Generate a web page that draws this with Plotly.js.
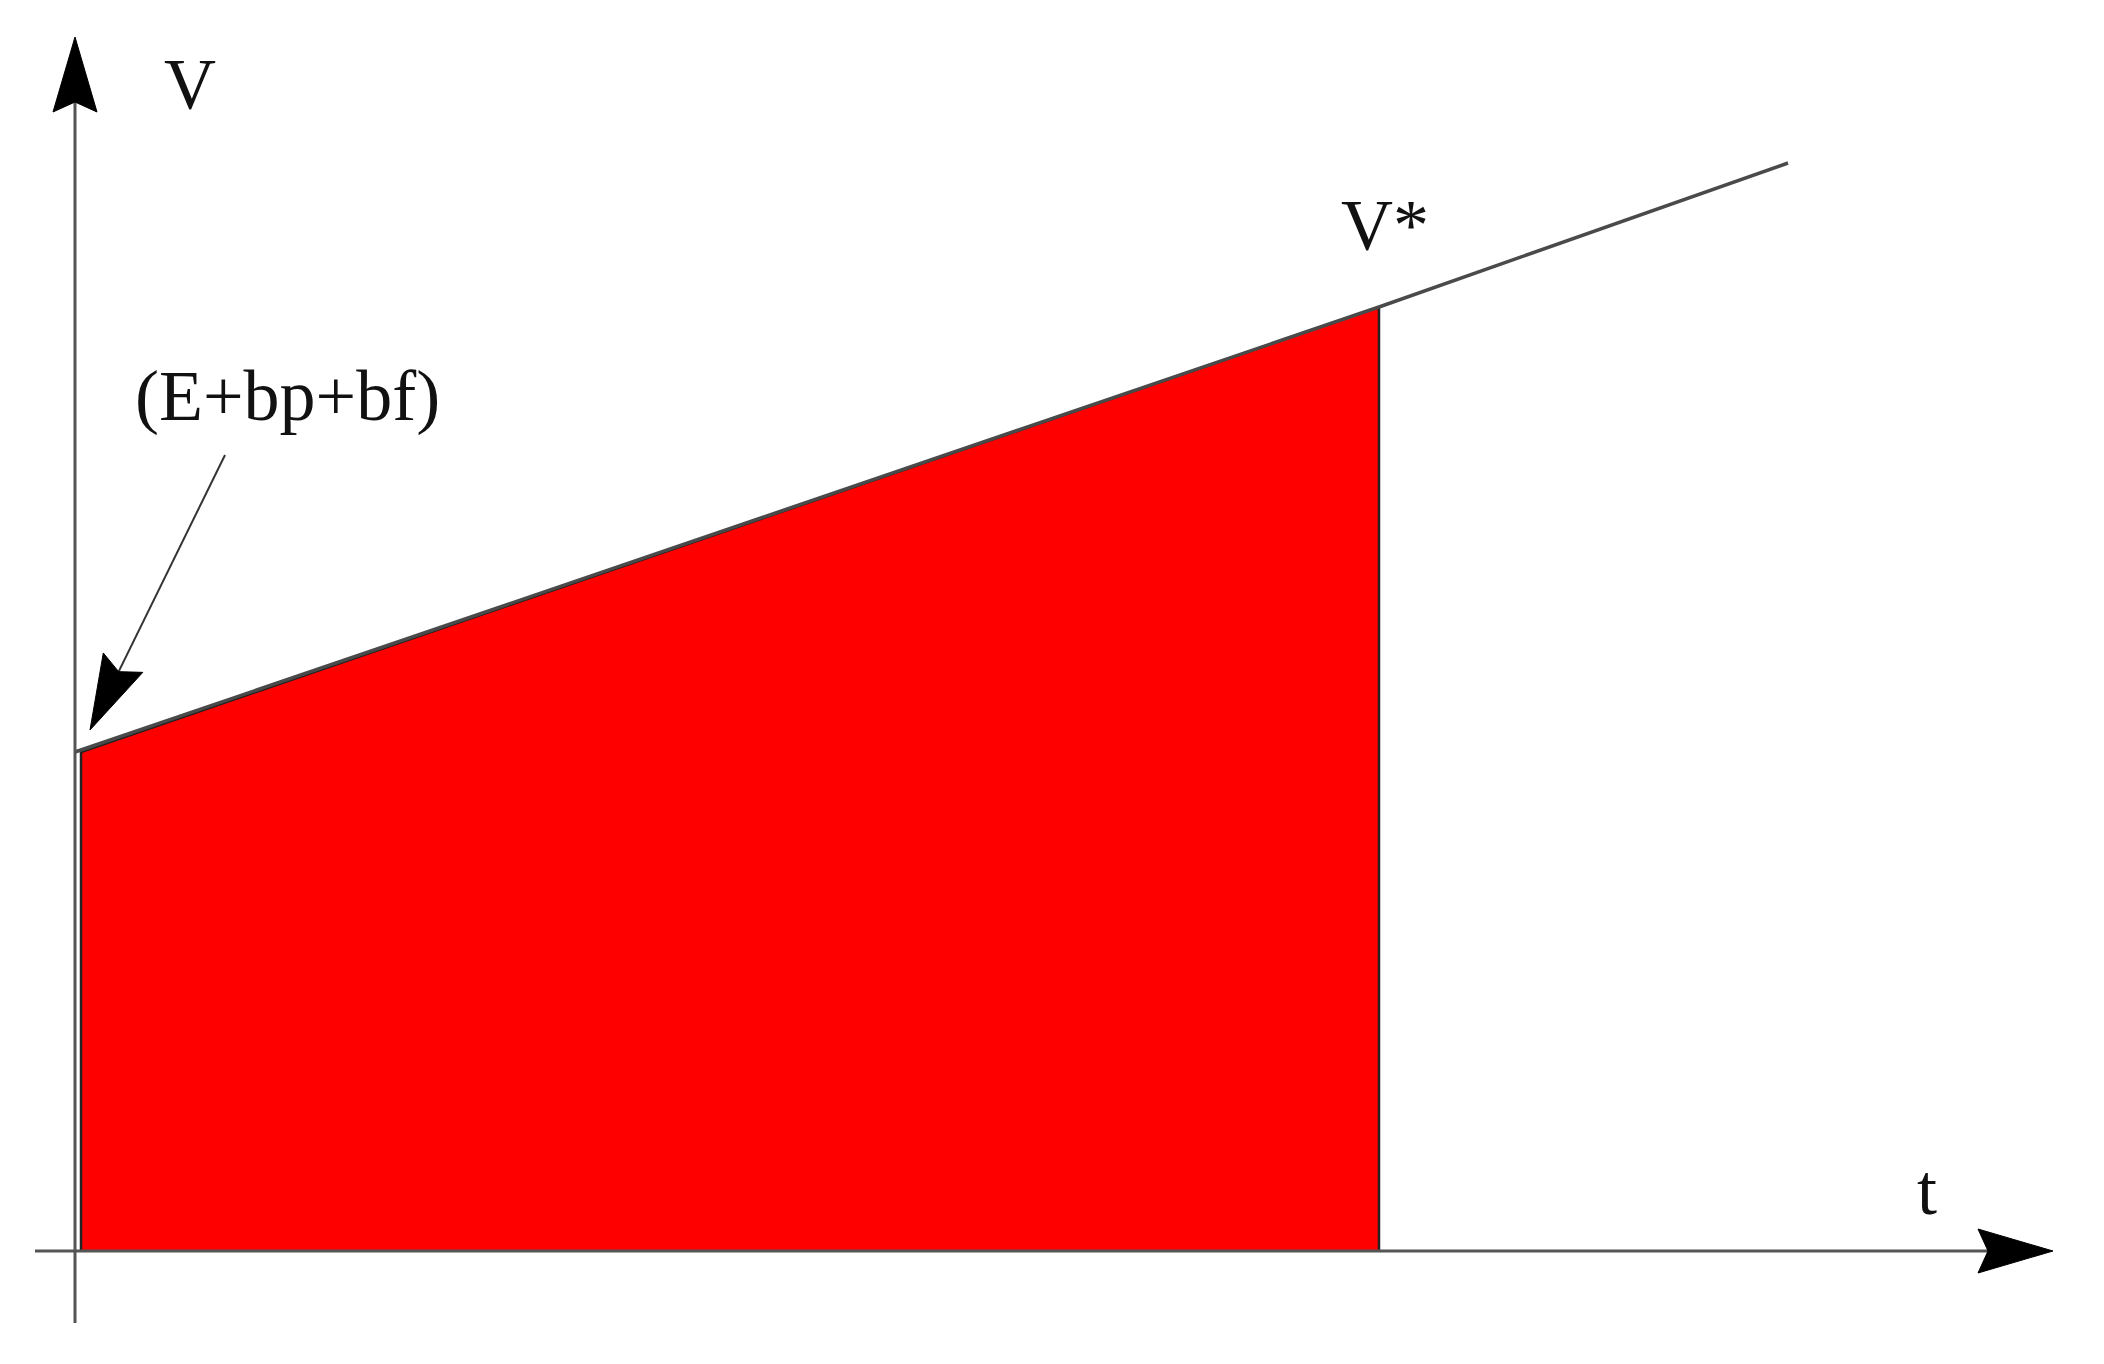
<!DOCTYPE html>
<html>
<head>
<meta charset="utf-8">
<script src="https://cdn.plot.ly/plotly-3.0.1.min.js"></script>
<style>
  html, body { margin: 0; padding: 0; background: #fff; }
  #chart { width: 2104px; height: 1364px; }
</style>
</head>
<body>
<div id="chart"></div>
<script>
// value line V(t): starts at (E+bp+bf), passes V*, keeps going
var lineT = [0, 13.04, 17.13];
var lineV = [4.99, 9.44, 10.88];

// shaded region under the line up to t*
var areaT = [0.06, 0.06, 13.04, 13.04];
var areaV = [0, 4.99, 9.44, 0];

// axis extents
var xAxisT = [-0.40, 19.78];
var yAxisV = [-0.72, 12.14];

// labels
var labelText = ["V", "V*", "(E+bp+bf)", "t"];
var labelT = [1.15, 13.10, 2.12, 18.52];
var labelV = [11.67, 10.26, 8.55, 0.61];

// pointer from the label to the starting value
var pointerTail = [1.50, 7.96];
var pointerTip = [0.15, 5.21];

var axisColor = "#555";
var headLen = 0.75, headHalf = 0.22, headNotch = 0.1;

// filled arrow head with a small notch, tip at (tx,ty), pointing along (dx,dy)
function arrowHead(tx, ty, dx, dy) {
  var n = Math.sqrt(dx * dx + dy * dy);
  dx /= n; dy /= n;
  var px = -dy, py = dx;
  var bx = tx - dx * headLen, by = ty - dy * headLen;
  var nx = tx - dx * (headLen - headNotch), ny = ty - dy * (headLen - headNotch);
  var pts = [
    [tx, ty],
    [bx + px * headHalf, by + py * headHalf],
    [nx, ny],
    [bx - px * headHalf, by - py * headHalf]
  ];
  return {
    type: "path",
    path: "M" + pts.map(function(p) { return p[0] + "," + p[1]; }).join("L") + "Z",
    xref: "x", yref: "y",
    fillcolor: "#000",
    line: { color: "#000", width: 1 }
  };
}

var area = {
  x: areaT, y: areaV,
  type: "scatter", mode: "lines",
  fill: "toself", fillcolor: "#ff0000",
  line: { color: "#222", width: 2.5 },
  hoverinfo: "skip"
};

var vline = {
  x: lineT, y: lineV,
  type: "scatter", mode: "lines",
  line: { color: "#4a4a4a", width: 3.5 },
  hoverinfo: "skip"
};

var pdx = pointerTip[0] - pointerTail[0], pdy = pointerTip[1] - pointerTail[1];
var plen = Math.sqrt(pdx * pdx + pdy * pdy);

var shapes = [
  { type: "line", xref: "x", yref: "y", x0: xAxisT[0], x1: xAxisT[1] - 0.3, y0: 0, y1: 0,
    line: { color: axisColor, width: 3 } },
  { type: "line", xref: "x", yref: "y", x0: 0, x1: 0, y0: yAxisV[0], y1: yAxisV[1] - 0.3,
    line: { color: axisColor, width: 3 } },
  { type: "line", xref: "x", yref: "y",
    x0: pointerTail[0], y0: pointerTail[1],
    x1: pointerTip[0] - pdx / plen * 0.5, y1: pointerTip[1] - pdy / plen * 0.5,
    line: { color: "#333", width: 2 } },
  arrowHead(xAxisT[1], 0, 1, 0),
  arrowHead(0, yAxisV[1], 0, 1),
  arrowHead(pointerTip[0], pointerTip[1], pdx, pdy)
];

var annotations = labelText.map(function(s, i) {
  return {
    text: s, x: labelT[i], y: labelV[i], xref: "x", yref: "y",
    showarrow: false,
    font: { family: "Liberation Serif, Times New Roman, serif", size: 72, color: "#111" }
  };
});

var layout = {
  width: 2104, height: 1364,
  margin: { l: 0, r: 0, t: 0, b: 0 },
  paper_bgcolor: "#fff", plot_bgcolor: "#fff",
  showlegend: false,
  xaxis: { range: [-0.75, 20.29], visible: false, fixedrange: true },
  yaxis: { range: [-1.13, 12.51], visible: false, fixedrange: true },
  shapes: shapes,
  annotations: annotations
};

Plotly.newPlot("chart", [area, vline], layout, { staticPlot: true });
</script>
</body>
</html>
